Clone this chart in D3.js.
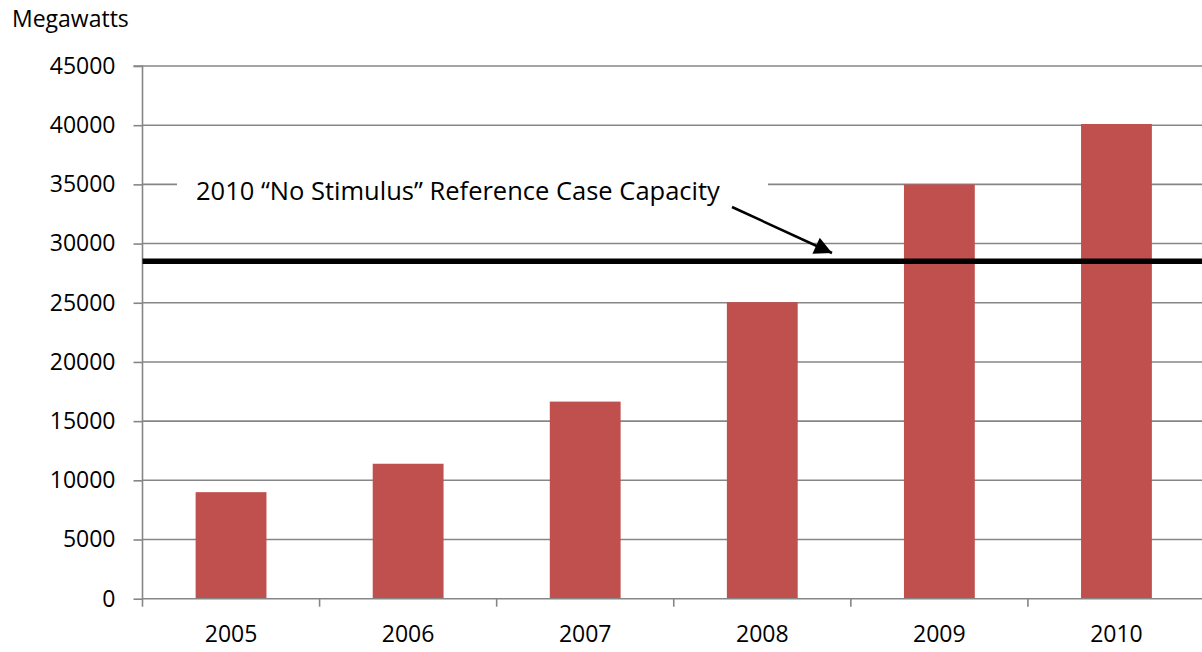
<!DOCTYPE html>
<html>
<head>
<meta charset="utf-8">
<script src="https://cdn.jsdelivr.net/npm/d3@7"></script>
<style>
  html, body { margin: 0; padding: 0; background: #fff; }
  svg { display: block; font-family: "Open Sans", "Liberation Sans", sans-serif; }
</style>
</head>
<body>
<svg id="chart" width="1202" height="652"></svg>
<script>
const years = ["2005", "2006", "2007", "2008", "2009", "2010"];
const capacity = [9000, 11400, 16650, 25050, 35000, 40100];
const referenceValue = 28500;
const yTicks = [0, 5000, 10000, 15000, 20000, 25000, 30000, 35000, 40000, 45000];
const yLabel = "Megawatts";
const annotation = "2010 \u201CNo Stimulus\u201D Reference Case Capacity";

(function () {
const svg = d3.select("#chart");
const pLeft = 142.5, pRight = 1205, pTop = 66, pBottom = 598.7;
const gridColor = "#868686";

const x = d3.scaleBand().domain(years).range([pLeft, pRight]).paddingInner(0.6).paddingOuter(0.3);
const xEdge = d3.scaleBand().domain(years).range([pLeft, pRight]).padding(0);
const y = d3.scaleLinear().domain([0, 45000]).range([pBottom, pTop]);

// gridlines
svg.append("g").selectAll("line").data(yTicks.filter(d => d > 0)).join("line")
  .attr("x1", pLeft).attr("x2", 1202)
  .attr("y1", d => y(d)).attr("y2", d => y(d))
  .attr("stroke", gridColor).attr("stroke-width", 1.6);

// y axis
const yAxis = d3.axisLeft(y).tickValues(yTicks).tickSize(9).tickPadding(18).tickFormat(d3.format("d"));
const gy = svg.append("g").attr("transform", `translate(${pLeft},0)`).call(yAxis);
gy.attr("font-family", null).attr("font-size", null);
gy.select(".domain").attr("stroke", gridColor).attr("stroke-width", 1.6).attr("d", `M-9,${pTop}H0V${pBottom}`);
gy.selectAll(".tick line").attr("stroke", gridColor).attr("stroke-width", 1.6);
gy.selectAll(".tick text").attr("font-size", 23).attr("fill", "#000");

// bars
svg.append("g").selectAll("rect").data(capacity).join("rect")
  .attr("x", (d, i) => x(years[i]))
  .attr("width", x.bandwidth())
  .attr("y", d => y(d))
  .attr("height", d => y(0) - y(d))
  .attr("fill", "#c0504d");

// x axis
const gx = svg.append("g").attr("transform", `translate(0,${pBottom})`);
gx.append("line").attr("x1", pLeft).attr("x2", 1202).attr("y1", 0).attr("y2", 0)
  .attr("stroke", gridColor).attr("stroke-width", 1.6);
gx.selectAll("line.tk").data(years).join("line").attr("class", "tk")
  .attr("x1", d => xEdge(d)).attr("x2", d => xEdge(d))
  .attr("y1", 0).attr("y2", 8)
  .attr("stroke", gridColor).attr("stroke-width", 1.6);
gx.selectAll("text").data(years).join("text")
  .attr("x", d => xEdge(d) + xEdge.bandwidth() / 2)
  .attr("y", 43)
  .attr("text-anchor", "middle")
  .attr("font-size", 23)
  .text(d => d);

// reference line
svg.append("line").attr("x1", pLeft).attr("x2", 1202)
  .attr("y1", y(referenceValue)).attr("y2", y(referenceValue))
  .attr("stroke", "#000").attr("stroke-width", 5.5);

// annotation
svg.append("rect").attr("x", 177).attr("y", 172).attr("width", 591).attr("height", 36).attr("fill", "#fff");
svg.append("text").attr("x", 196).attr("y", 200).attr("font-size", 25.5).text(annotation);

svg.append("defs").append("marker").attr("id", "arr")
  .attr("viewBox", "0 0 10 10").attr("refX", 10).attr("refY", 5)
  .attr("markerWidth", 8).attr("markerHeight", 7).attr("markerUnits", "strokeWidth")
  .attr("orient", "auto")
  .append("path").attr("d", "M0,0L10,5L0,10Z").attr("fill", "#000");
svg.append("line").attr("x1", 732).attr("y1", 207).attr("x2", 832).attr("y2", 253)
  .attr("stroke", "#000").attr("stroke-width", 2.5).attr("marker-end", "url(#arr)");

// y label
svg.append("text").attr("x", 12).attr("y", 27).attr("font-size", 23).text(yLabel);
})();
</script>
</body>
</html>
